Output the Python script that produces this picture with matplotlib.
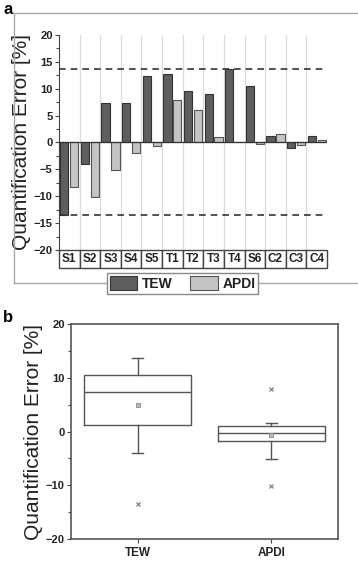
import matplotlib
matplotlib.use("Agg")
import matplotlib.pyplot as plt
from matplotlib.patches import Rectangle, Patch
from matplotlib.lines import Line2D
import matplotlib.transforms as mtransforms
from matplotlib.ticker import MultipleLocator

plt.rcParams['font.family'] = ['Liberation Sans', 'DejaVu Sans']

categories = ["S1", "S2", "S3", "S4", "S5", "T1", "T2", "T3", "T4", "S6", "C2", "C3", "C4"]
tew = [-13.5, -4.0, 7.3, 7.4, 12.3, 12.7, 9.6, 9.0, 13.7, 10.5, 1.2, -1.1, 1.3]
apdi = [-8.3, -10.1, -5.1, -1.9, -0.6, 7.9, 6.1, 1.0, 0.15, -0.2, 1.6, -0.4, 0.5]
limit_hi = 13.6
limit_lo = -13.5

# box plot stats (panel b)
box_labels = ["TEW", "APDI"]
box_q1 = [1.2, -1.8]
box_q3 = [10.5, 1.0]
box_med = [7.3, -0.2]
box_mean = [5.0, -0.7]
box_whislo = [-4.0, -5.1]
box_whishi = [13.7, 1.6]
box_fliers = [[-13.5], [7.9, -10.1]]

W, H = 358, 561
fig = plt.figure(figsize=(W / 100, H / 100), dpi=100)

def fx(px):
    return px / W

def fy(py):
    return 1 - py / H

TEW_C = "#5e5e5e"
APDI_C = "#c4c4c4"
SPINE = "#444444"

# ---------------- Panel a ----------------
axa = fig.add_axes([fx(59), fy(250), (327 - 59) / W, (250 - 35) / H])
x = list(range(len(categories)))
axa.bar([i - 0.24 for i in x], tew, width=0.4, color=TEW_C, edgecolor="#333333", linewidth=0.8, zorder=3, label="TEW")
axa.bar([i + 0.24 for i in x], apdi, width=0.4, color=APDI_C, edgecolor="#555555", linewidth=0.8, zorder=3, label="APDI")
axa.set_xlim(-0.5, len(categories) - 0.5)
axa.set_ylim(-20, 20)
for i in range(len(categories) - 1):
    axa.axvline(i + 0.5, color="#dcdcdc", lw=0.9, zorder=1)
axa.axhline(0, color="#333333", lw=0.9, zorder=4)
axa.axhline(limit_hi, color="#333333", lw=1.2, ls=(0, (4, 3)), zorder=4)
axa.axhline(limit_lo, color="#333333", lw=1.2, ls=(0, (4, 3)), zorder=4)
for s in ["top", "right", "bottom"]:
    axa.spines[s].set_visible(False)
axa.spines["left"].set_color(SPINE)
axa.yaxis.set_major_locator(MultipleLocator(5))
axa.yaxis.set_minor_locator(MultipleLocator(2.5))
axa.tick_params(axis="y", which="major", direction="out", length=3, width=0.8, color=SPINE, labelsize=8, pad=1.5, labelcolor="#222222")
axa.tick_params(axis="y", which="minor", direction="out", length=2, width=0.8, color=SPINE)
axa.set_xticks([])
for lab in axa.get_yticklabels():
    lab.set_fontweight("bold")
axa.set_ylabel("Quantification Error [%]", fontsize=15, color="#222222", labelpad=2)

# category table
trans = mtransforms.blended_transform_factory(axa.transData, axa.transAxes)
row_h = 18 / 215
for i, c in enumerate(categories):
    axa.add_patch(Rectangle((i - 0.5, -row_h), 1, row_h, transform=trans, facecolor="white",
                            edgecolor=SPINE, lw=1.0, clip_on=False, zorder=5))
    axa.text(i, -row_h / 2, c, transform=trans, ha="center", va="center", fontsize=8.5,
             fontweight="bold", color="#222222", zorder=6)

# outer frame of panel a
frame_col = "#a8a8a8"
fig.add_artist(Line2D([fx(14), fx(14), fx(358)], [fy(283), fy(13), fy(13)], color=frame_col, lw=1.0, transform=fig.transFigure))
fig.add_artist(Line2D([fx(14), fx(358)], [fy(283), fy(283)], color=frame_col, lw=1.0, transform=fig.transFigure))

handles = [Patch(facecolor=TEW_C, edgecolor="#333333", lw=0.8), Patch(facecolor=APDI_C, edgecolor="#555555", lw=0.8)]
leg = fig.legend(handles, ["TEW", "APDI"], loc="center", bbox_to_anchor=(fx(182.5), fy(283.5)), ncol=2,
                 fontsize=10, frameon=True, fancybox=False, edgecolor="#888888", framealpha=1,
                 handlelength=2.0, handleheight=1.15, handletextpad=0.3, columnspacing=1.3,
                 borderpad=0.2, borderaxespad=0)
leg.get_frame().set_linewidth(1.0)
for t in leg.get_texts():
    t.set_fontweight("bold")
    t.set_color("#222222")

fig.text(fx(3), fy(9), "a", fontsize=12, fontweight="bold", ha="left", va="center")

# ---------------- Panel b ----------------
axb = fig.add_axes([fx(71), fy(539), (338 - 71) / W, (539 - 324) / H])
stats = []
for k in range(len(box_labels)):
    stats.append(dict(label=box_labels[k], q1=box_q1[k], q3=box_q3[k], med=box_med[k], mean=box_mean[k],
                      whislo=box_whislo[k], whishi=box_whishi[k], fliers=box_fliers[k]))
axb.bxp(stats, positions=[1, 2], widths=0.8, showmeans=True, capwidths=0.08,
        boxprops=dict(color="#555555", lw=1.0),
        medianprops=dict(color="#555555", lw=1.0),
        whiskerprops=dict(color="#555555", lw=1.0),
        capprops=dict(color="#555555", lw=1.0),
        meanprops=dict(marker="s", markersize=2.5, markerfacecolor="#bbbbbb", markeredgecolor="#888888", markeredgewidth=0.6),
        flierprops=dict(marker="x", markersize=2.5, markeredgecolor="#777777", markeredgewidth=0.8))
axb.set_xlim(0.5, 2.5)
axb.set_ylim(-20, 20)
for s in axb.spines.values():
    s.set_color("#555555")
    s.set_linewidth(1.2)
axb.yaxis.set_major_locator(MultipleLocator(10))
axb.yaxis.set_minor_locator(MultipleLocator(5))
axb.tick_params(axis="y", which="major", direction="out", length=3, width=0.8, color=SPINE, labelsize=8, pad=1.5, labelcolor="#222222")
axb.tick_params(axis="y", which="minor", direction="out", length=2, width=0.8, color=SPINE)
axb.tick_params(axis="x", direction="out", length=3, width=0.8, color=SPINE, labelsize=8.5, pad=2.5, labelcolor="#222222")
for lab in axb.get_yticklabels() + axb.get_xticklabels():
    lab.set_fontweight("bold")
axb.set_ylabel("Quantification Error [%]", fontsize=15, color="#222222", labelpad=2)

fig.text(fx(3), fy(317), "b", fontsize=12, fontweight="bold", ha="left", va="center")

fig.savefig("out.png", dpi=100)
